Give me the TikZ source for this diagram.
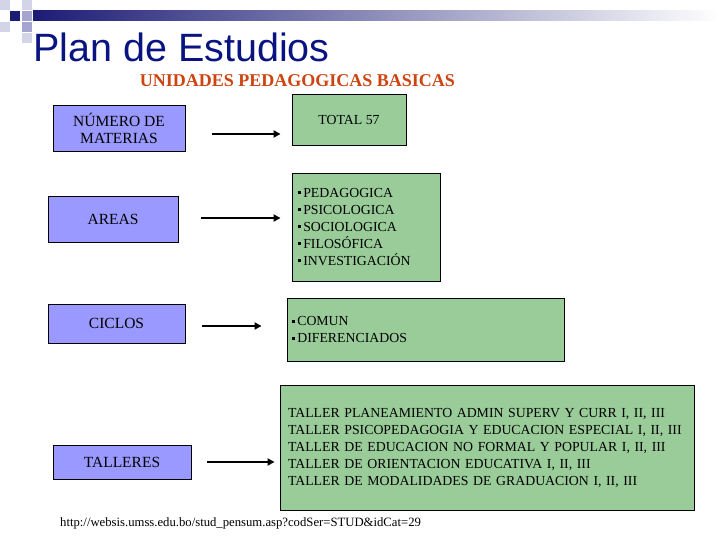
\documentclass[tikz,border=0pt]{standalone}
\usepackage{fontspec}
\setmainfont{Liberation Serif}
\newfontfamily\titlefont{Liberation Sans}
\usetikzlibrary{arrows.meta, positioning}
\definecolor{titleblue}{RGB}{10,20,128}
\definecolor{barblue}{RGB}{28,28,118}
\definecolor{barmid}{RGB}{150,150,190}
\definecolor{subred}{RGB}{204,68,17}
\definecolor{boxblue}{RGB}{153,153,255}
\definecolor{boxgreen}{RGB}{153,204,153}
\definecolor{sqlight}{RGB}{212,212,232}
\definecolor{sqmid}{RGB}{165,165,208}
\tikzset{
    myarrow/.style={-{Triangle[length=7pt,width=7pt]}, line width=1.8pt},
    lbox/.style={draw, rectangle, line width=0.9pt, fill=boxblue, font=\fontsize{15.5}{17}\selectfont, align=center, inner sep=0pt},
    rbox/.style={draw, rectangle, line width=0.9pt, fill=boxgreen, font=\fontsize{13.8}{17}\selectfont, align=left, inner ysep=0pt}
}
\newcommand{\sqbul}{\rule[3pt]{3pt}{3pt}\,}

\begin{document}
\begin{tikzpicture}[x=1pt, y=-1pt]
    \useasboundingbox (0,0) rectangle (720,540);
    \fill [white] (0,0) rectangle (720,540);

    % header band
    \shade [left color=barblue, middle color=barmid, right color=white] (33,11) rectangle (720,21);
    \fill [sqlight] (0,0) rectangle (10,10);
    \fill [sqlight] (22,0) rectangle (32,10);
    \fill [barblue] (10,11) rectangle (20,21);
    \fill [sqmid] (22,11) rectangle (32,21);
    \fill [sqlight] (0,22) rectangle (10,32);
    \fill [sqmid] (22,22) rectangle (32,32);
    \fill [sqlight] (22,33) rectangle (32,43);

    \node (title) [anchor=base west, inner sep=0pt, text=titleblue, font=\titlefont\fontsize{39.5}{40}\selectfont] at (33,62) {Plan de Estudios};
    \node (sub) [anchor=base, inner sep=0pt, text=subred, font=\bfseries\fontsize{18}{18}\selectfont] at (297.5,87) {UNIDADES PEDAGOGICAS BASICAS};

    % left column
    \node (mat) [lbox, minimum width=132pt, minimum height=46pt] at (119,128) {NÚMERO DE\\MATERIAS};
    \node (areas) [lbox, minimum width=130pt, minimum height=46pt] at (113,219) {AREAS};
    \node (ciclos) [lbox, minimum width=137pt, minimum height=39pt] at (116.5,323.5) {CICLOS};
    \node (talleres) [lbox, minimum width=138pt, minimum height=34pt] at (122,462) {TALLERES};

    % right column
    \node (total) [rbox, align=center, inner xsep=0pt, minimum width=114pt, minimum height=51pt] at (349,119.5) {TOTAL 57};
    \node (areasbox) [rbox, inner xsep=6pt, text width=136pt, minimum height=108pt] at (366,227)
        {\sqbul PEDAGOGICA\\\sqbul PSICOLOGICA\\\sqbul SOCIOLOGICA\\\sqbul FILOSÓFICA\\\sqbul INVESTIGACIÓN};
    \node (ciclosbox) [rbox, inner xsep=5pt, text width=267pt, minimum height=63pt] at (425.5,329.5)
        {\sqbul COMUN\\\sqbul DIFERENCIADOS};
    \node (tallbox) [rbox, inner xsep=8pt, text width=398pt, minimum height=125pt] at (487,447.5)
        {TALLER PLANEAMIENTO ADMIN SUPERV Y CURR I, II, III\\
         \mbox{TALLER PSICOPEDAGOGIA Y EDUCACION ESPECIAL I, II, III}\\
         TALLER DE EDUCACION NO FORMAL Y POPULAR I, II, III\\
         TALLER DE ORIENTACION EDUCATIVA I, II, III\\
         TALLER DE MODALIDADES DE GRADUACION I, II, III};

    \draw [myarrow, shorten >=11pt] ([xshift=27pt, yshift=-6pt]mat.east) coordinate (a1) -- (total.west |- a1);
    \draw [myarrow, shorten >=11pt] ([xshift=23pt, yshift=1pt]areas.east) coordinate (a2) -- (areasbox.west |- a2);
    \draw [myarrow, shorten >=25pt] ([xshift=17pt, yshift=-2.5pt]ciclos.east) coordinate (a3) -- (ciclosbox.west |- a3);
    \draw [myarrow, shorten >=5pt] ([xshift=16pt]talleres.east) coordinate (a4) -- (tallbox.west |- a4);

    \node (url) [anchor=base west, inner sep=0pt, font=\fontsize{12.7}{14}\selectfont] at (60,526)
        {http://websis.umss.edu.bo/stud\_pensum.asp?codSer=STUD\&idCat=29};
\end{tikzpicture}
\end{document}
